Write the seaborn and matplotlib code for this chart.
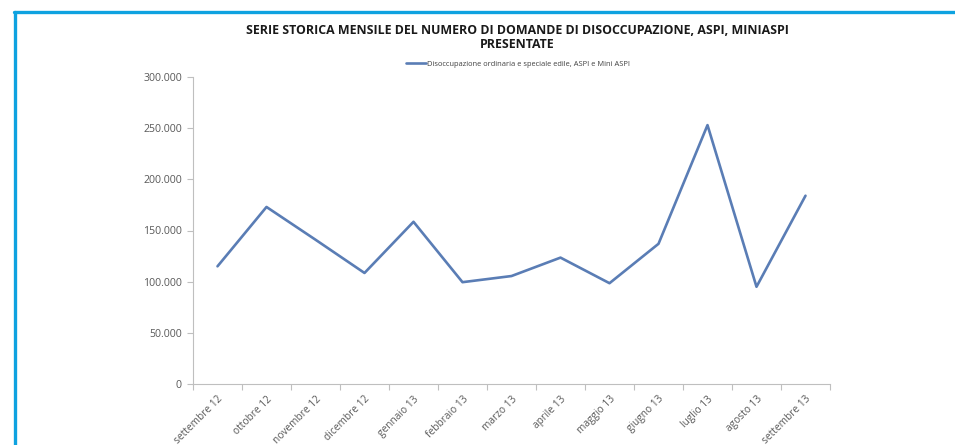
import matplotlib
matplotlib.use("Agg")
import matplotlib.pyplot as plt
import seaborn as sns
import pandas as pd
from matplotlib.ticker import FuncFormatter, FixedLocator
from matplotlib.lines import Line2D

months = ["settembre 12", "ottobre 12", "novembre 12", "dicembre 12", "gennaio 13",
          "febbraio 13", "marzo 13", "aprile 13", "maggio 13", "giugno 13",
          "luglio 13", "agosto 13", "settembre 13"]
domande = [115000, 173000, 141000, 108500, 158500, 99500, 105500, 123500,
           98500, 137000, 253000, 95000, 184000]
series_name = "Disoccupazione ordinaria e speciale edile, ASPI e Mini ASPI"
title = "SERIE STORICA MENSILE DEL NUMERO DI DOMANDE DI DISOCCUPAZIONE, ASPI, MINIASPI\nPRESENTATE"

df = pd.DataFrame({"mese": months, "domande": domande, "serie": series_name})

sns.set_theme(style="white")
plt.rcParams['font.family'] = ['Open Sans', 'DejaVu Sans']

fig = plt.figure(figsize=(9.55, 4.45), dpi=100)
ax = fig.add_axes([193/955, 1-384/445, (830-193)/955, (384-77)/445])

sns.lineplot(data=df, x="mese", y="domande", hue="serie", sort=False,
             palette=["#5a7db5"], linewidth=1.9, ax=ax, legend=True)

ax.set_ylim(0, 300000)
ax.set_xlim(-0.5, len(months) - 0.5)
ax.set_yticks(range(0, 300001, 50000))
ax.yaxis.set_major_formatter(FuncFormatter(lambda v, p: f"{int(v):,}".replace(",", ".")))
ax.set_xlabel("")
ax.set_ylabel("")

ax.set_xticks(range(len(months)))
ax.set_xticklabels(months, rotation=45, ha="right", rotation_mode="anchor")
ax.xaxis.set_minor_locator(FixedLocator([i - 0.5 for i in range(len(months) + 1)]))
ax.tick_params(axis="x", which="major", length=0, labelsize=7.3, labelcolor="#595959", pad=7)
ax.tick_params(axis="x", which="minor", length=4, color="#bfbfbf", width=0.8, bottom=True)
ax.tick_params(axis="y", which="major", length=4, color="#bfbfbf", width=0.8, left=True,
               labelsize=7.6, labelcolor="#595959", pad=4)

for s in ["top", "right"]:
    ax.spines[s].set_visible(False)
for s in ["left", "bottom"]:
    ax.spines[s].set_color("#bfbfbf")
    ax.spines[s].set_linewidth(0.8)

leg = ax.legend(loc="center", bbox_to_anchor=(518/955, 1-64/445),
                bbox_transform=fig.transFigure, frameon=False, fontsize=5.4,
                handlelength=2.6, handletextpad=0.15, borderpad=0)
for t in leg.get_texts():
    t.set_color("#404040")

fig.text(517/955, 1-24.5/445, title, ha="center", va="top", fontsize=8.9,
         fontweight="bold", color="#1a1a1a", linespacing=1.05)

# blue frame
fig.add_artist(Line2D([14/955, 1], [1-11.5/445, 1-11.5/445], transform=fig.transFigure,
                      color="#0ea2e0", linewidth=2.4))
fig.add_artist(Line2D([15/955, 15/955], [0, 1-11.5/445], transform=fig.transFigure,
                      color="#0ea2e0", linewidth=2.4))

fig.savefig("out.png", dpi=100)
